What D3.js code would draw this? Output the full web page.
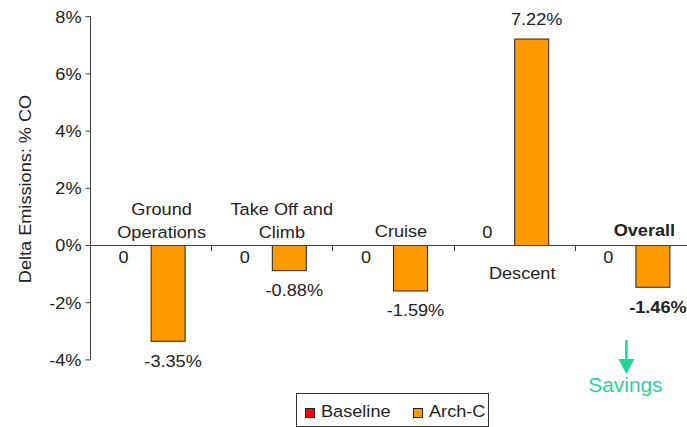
<!DOCTYPE html>
<html>
<head>
<meta charset="utf-8">
<script src="https://cdn.jsdelivr.net/npm/d3@7"></script>
<style>
  html, body { margin: 0; padding: 0; background: #fff; }
  svg { display: block; }
  text { font-family: "Liberation Sans", Arial, sans-serif; fill: #222; }
</style>
</head>
<body>
<svg id="chart" width="687" height="427"></svg>
<script>
// ---- data ----
const categories = ["Ground Operations", "Take Off and Climb", "Cruise", "Descent", "Overall"];
const categoryLines = [["Ground", "Operations"], ["Take Off and", "Climb"], ["Cruise"], ["Descent"], ["Overall"]];
const series = ["Baseline", "Arch-C"];
const baselineValues = [0, 0, 0, 0, 0];
const archCValues = [-3.35, -0.88, -1.59, 7.22, -1.46];
const archCLabels = ["-3.35%", "-0.88%", "-1.59%", "7.22%", "-1.46%"];
const yTicks = [-4, -2, 0, 2, 4, 6, 8];
const yTitle = "Delta Emissions: % CO";
const annotation = "Savings";

// ---- layout / style ----
const SX = 1.1;           // horizontal text stretch
const FS = 16.5;
const colors = { "Baseline": "#FF0000", "Arch-C": "#FF9900" };
const axisColor = "#404040";
// category label placement: dx from band centre, baseline y of last line
const catLabelLayout = [
  { dx: 11, y: 238 }, { dx: 10, y: 238 }, { dx: 8, y: 237 }, { dx: 8, y: 279 }, { dx: 9, y: 236, bold: true }
];

const svg = d3.select("#chart");

const x0 = d3.scaleBand().domain(categories).range([90, 696]).paddingInner(0).paddingOuter(0);
const bw = x0.bandwidth();
const barW = 34;
const x1 = d3.scaleBand().domain(series).range([bw / 2 - barW, bw / 2 + barW]);
const y = d3.scaleLinear().domain([-4, 8]).range([359.4, 16.2]);

function txt(parent, x, yy, s, opt = {}) {
  const t = parent.append("text")
    .attr("transform", `translate(${x},${yy}) scale(${opt.sx || SX},1)`)
    .attr("text-anchor", opt.anchor || "middle")
    .style("font-size", (opt.fs || FS) + "px")
    .text(s);
  if (opt.bold) t.style("font-weight", "bold");
  if (opt.fill) t.style("fill", opt.fill);
  return t;
}

// ---- y axis ----
const yAxis = d3.axisLeft(y).tickValues(yTicks).tickFormat(d => d + "%").tickSize(5).tickSizeOuter(0).tickPadding(4);
const gy = svg.append("g").attr("transform", "translate(90.5,0)").call(yAxis);
gy.select(".domain").attr("stroke", axisColor).attr("d", `M0,${y(8)}V${y(-4)}`);
gy.selectAll(".tick line").attr("stroke", axisColor);
gy.selectAll(".tick text")
  .attr("x", -9 / SX)
  .attr("transform", `scale(${SX},1)`)
  .attr("dy", "0.36em")
  .style("font-size", FS + "px")
  .style("font-family", "'Liberation Sans', Arial, sans-serif")
  .attr("fill", "#222");

// y title
svg.append("text")
  .attr("transform", `translate(31,189) rotate(-90) scale(${SX},1)`)
  .attr("text-anchor", "middle")
  .style("font-size", FS + "px")
  .text(yTitle);

// ---- bars ----
const rows = categories.map((c, i) => ({ cat: c, i, vals: [
  { s: "Baseline", v: baselineValues[i] },
  { s: "Arch-C", v: archCValues[i] }
]}));

const gCat = svg.selectAll("g.cat").data(rows).join("g")
  .attr("class", "cat")
  .attr("transform", d => `translate(${x0(d.cat)},0)`);

gCat.selectAll("rect").data(d => d.vals).join("rect")
  .attr("x", d => x1(d.s) + 0.5)
  .attr("width", x1.bandwidth())
  .attr("y", d => Math.min(y(d.v), y(0)) + 0.5)
  .attr("height", d => Math.abs(y(d.v) - y(0)))
  .attr("fill", d => colors[d.s])
  .attr("stroke", d => d.v === 0 ? "none" : "#222")
  .attr("stroke-width", 1);

// zero line (category axis)
const gx = svg.append("g");
gx.append("line")
  .attr("x1", x0.range()[0]).attr("x2", x0.range()[1])
  .attr("y1", Math.round(y(0)) + 0.5).attr("y2", Math.round(y(0)) + 0.5)
  .attr("stroke", axisColor);
gx.selectAll("line.ct").data(categories.slice(1)).join("line")
  .attr("class", "ct")
  .attr("x1", d => Math.round(x0(d)) + 0.5).attr("x2", d => Math.round(x0(d)) + 0.5)
  .attr("y1", Math.round(y(0))).attr("y2", Math.round(y(0)) + 6)
  .attr("stroke", axisColor);

// value labels
rows.forEach((r, i) => {
  const cx = x0(r.cat) + bw / 2;
  // Baseline zero labels
  const above = archCValues[i] > 0;
  txt(svg, cx - 27, above ? y(0) - 7 : y(0) + 18, String(baselineValues[i]));
  // Arch-C labels
  const v = archCValues[i];
  const bx = x0(r.cat) + x1("Arch-C") + barW / 2 + 5.5;
  const ly = v < 0 ? y(v) + 26 : y(v) - 13.5;
  txt(svg, bx, ly, archCLabels[i], { bold: i === 4 });
  // category labels
  const L = catLabelLayout[i];
  const lines = categoryLines[i];
  lines.forEach((s, k) => {
    txt(svg, cx + L.dx, L.y - (lines.length - 1 - k) * 23, s, { bold: L.bold });
  });
});

// ---- savings annotation ----
const savX = x0("Overall") + bw / 2 - 9;
const green = "#1FD49E";
svg.append("line").attr("x1", savX).attr("x2", savX).attr("y1", 340).attr("y2", 361)
  .attr("stroke", green).attr("stroke-width", 2.5);
svg.append("path").attr("d", `M${savX - 8},359 L${savX + 8},359 L${savX},374 Z`).attr("fill", green);
txt(svg, savX - 1, 392, annotation, { fs: 19.5, sx: 1.07, fill: green });

// ---- legend ----
const lg = svg.append("g");
lg.append("rect").attr("x", 296.5).attr("y", 393.5).attr("width", 192).attr("height", 33)
  .attr("fill", "#fff").attr("stroke", "#333");
const legendX = [305, 413];
series.forEach((s, i) => {
  lg.append("rect").attr("x", legendX[i] + 0.5).attr("y", 408.5).attr("width", 9).attr("height", 9)
    .attr("fill", colors[s]).attr("stroke", "#222");
  txt(lg, legendX[i] + 16, 417, s, { anchor: "start" });
});
</script>
</body>
</html>
